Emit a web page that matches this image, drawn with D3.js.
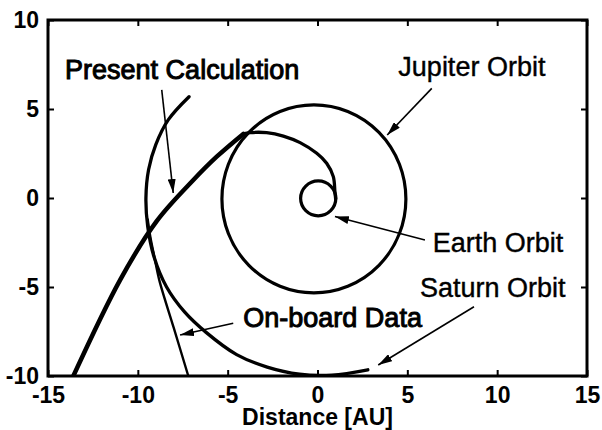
<!DOCTYPE html>
<html>
<head>
<meta charset="utf-8">
<script src="https://cdn.jsdelivr.net/npm/d3@7"></script>
<style>
body { margin: 0; background: #fff; }
text { font-family: "Liberation Sans", Arial, sans-serif; fill: #000; }
.tick_labels text { font-size: 23px; font-weight: bold; }
.axis_title { font-size: 23px; font-weight: bold; }
.notes { font-size: 27px; }
</style>
</head>
<body>
<svg id="svg-orbits" width="602" height="430"></svg>
<script>
var xTicks = [-15, -10, -5, 0, 5, 10, 15];
var yTicks = [-10, -5, 0, 5, 10];

// orbits drawn as ellipses (centre and half axes in AU)
var orbits = [{name:"Earth", cx:0.04, cy:-0.02, rx:0.98, ry:0.98},
              {name:"Jupiter", cx:-0.2, cy:-0.05, rx:5.12, ry:5.28}];

var saturnArc = [[-7.15,5.69],[-8.3,4.4],[-9.0,3.0],[-9.4,1.6],[-9.55,0.0],[-9.45,-1.6],
                 [-9.1,-3.3],[-8.4,-5.0],[-7.4,-6.4],[-6.2,-7.55],[-4.5,-8.8],[-2.8,-9.5],
                 [-1.0,-9.9],[0.8,-9.95],[2.8,-9.65]];
var transfer = [[1.01,-0.05],[0.97,0.35],[0.88,1.2],[0.51,1.95],[-0.04,2.51],[-0.97,3.11],
                [-1.9,3.48],[-2.83,3.67],[-3.76,3.67],[-4.13,3.6]];
var present = [[-4.13,3.6],[-5.61,2.32],[-6.91,1.01],[-8.95,-1.3],[-10.99,-4.61],[-13.59,-10]];
var onboard = [[-9.45,-1.2],[-9.3,-2.2],[-9.08,-3.3],[-8.81,-4.6],[-8.0,-7.3],[-7.19,-10]];

var notes = [{text:"Present Calculation", x:-14.05, y:6.69, heavy:1.0},
             {text:"Jupiter Orbit", x:4.5, y:6.85, heavy:0.4},
             {text:"Earth Orbit", x:6.41, y:-3.02, heavy:0.4},
             {text:"Saturn Orbit", x:5.7, y:-5.58, heavy:0.4},
             {text:"On-board Data", x:-4.13, y:-7.23, heavy:1.0}];
var arrows = [{x1:-8.67, y1:6.07, x2:-8.03, y2:0.28},
              {x1:6.36, y1:6.16, x2:3.88, y2:3.54},
              {x1:5.98, y1:-2.36, x2:0.97, y2:-1.04},
              {x1:8.71, y1:-6.11, x2:3.38, y2:-9.38},
              {x1:-4.69, y1:-7.04, x2:-7.65, y2:-7.7}];

var svg = d3.select("#svg-orbits");
var pLeft = 48, pRight = 587, pTop = 20, pBottom = 376;

var xScale = d3.scaleLinear().domain([-15, 15]).range([pLeft, pRight]);
var yScale = d3.scaleLinear().domain([-10, 10]).range([pBottom, pTop]);
var plain = function(d) { return String(d); };

var defs = svg.append("defs");
defs.append("clipPath")
    .attr("id", "plot_clip")
    .append("rect")
    .attr("x", pLeft).attr("y", pTop)
    .attr("width", pRight-pLeft).attr("height", pBottom-pTop);

defs.append("marker")
    .attr("id", "head")
    .attr("viewBox", "0 -4 14 8")
    .attr("refX", 14)
    .attr("refY", 0)
    .attr("markerUnits", "userSpaceOnUse")
    .attr("markerWidth", 14)
    .attr("markerHeight", 8)
    .attr("orient", "auto")
    .append("path")
    .attr("d", "M0,-4L14,0L0,4Z")
    .style("fill", "#000");

// axes: ticks point inward on all four sides
var gx = svg.append("g")
    .attr("class", "tick_labels")
    .attr("transform", "translate(0," + pBottom + ")")
    .call(d3.axisBottom(xScale).tickValues(xTicks).tickFormat(plain).tickSizeInner(-6).tickSizeOuter(0).tickPadding(11));
var gy = svg.append("g")
    .attr("class", "tick_labels")
    .attr("transform", "translate(" + pLeft + ",0)")
    .call(d3.axisLeft(yScale).tickValues(yTicks).tickFormat(plain).tickSizeInner(-6).tickSizeOuter(0).tickPadding(9));
var gt = svg.append("g")
    .attr("transform", "translate(0," + pTop + ")")
    .call(d3.axisTop(xScale).tickValues(xTicks).tickSizeInner(-6).tickSizeOuter(0).tickFormat(""));
var gr = svg.append("g")
    .attr("transform", "translate(" + pRight + ",0)")
    .call(d3.axisRight(yScale).tickValues(yTicks).tickSizeInner(-6).tickSizeOuter(0).tickFormat(""));
[gx, gy, gt, gr].forEach(function(g) {
  g.attr("font-family", null).attr("font-size", null);
  g.select(".domain").remove();
  g.selectAll(".tick line").style("stroke", "#000").style("stroke-width", 2);
});

svg.append("rect")
    .attr("x", pLeft).attr("y", pTop)
    .attr("width", pRight-pLeft).attr("height", pBottom-pTop)
    .style("fill", "none")
    .style("stroke", "#000")
    .style("stroke-width", 3);

var plot = svg.append("g").attr("clip-path", "url(#plot_clip)");

plot.selectAll("orbits")
    .data(orbits)
    .enter()
    .append("ellipse")
    .attr("cx", function(d) { return xScale(d.cx); })
    .attr("cy", function(d) { return yScale(d.cy); })
    .attr("rx", function(d) { return xScale(d.rx) - xScale(0); })
    .attr("ry", function(d) { return yScale(0) - yScale(d.ry); })
    .style("fill", "none")
    .style("stroke", "#000")
    .style("stroke-width", 3.2);

var line = d3.line()
    .x(function(d) { return xScale(d[0]); })
    .y(function(d) { return yScale(d[1]); })
    .curve(d3.curveCatmullRom.alpha(0.5));

var curves = [{pts:saturnArc, w:3.3}, {pts:transfer, w:3.3}, {pts:present, w:4.5}, {pts:onboard, w:2.4}];
plot.selectAll("curves")
    .data(curves)
    .enter()
    .append("path")
    .attr("d", function(d) { return line(d.pts); })
    .style("fill", "none")
    .style("stroke", "#000")
    .style("stroke-width", function(d) { return d.w; })
    .style("stroke-linecap", "round")
    .style("stroke-linejoin", "round");

svg.selectAll("arrows")
    .data(arrows)
    .enter()
    .append("line")
    .attr("x1", function(d) { return xScale(d.x1); })
    .attr("y1", function(d) { return yScale(d.y1); })
    .attr("x2", function(d) { return xScale(d.x2); })
    .attr("y2", function(d) { return yScale(d.y2); })
    .style("stroke", "#000")
    .style("stroke-width", 1.6)
    .attr("marker-end", "url(#head)");

svg.selectAll("notes")
    .data(notes)
    .enter()
    .append("text")
    .attr("class", "notes")
    .attr("x", function(d) { return xScale(d.x); })
    .attr("y", function(d) { return yScale(d.y); })
    .text(function(d) { return d.text; })
    .style("stroke", "#000")
    .style("stroke-width", function(d) { return d.heavy; });

svg.append("text")
    .attr("class", "axis_title")
    .attr("x", (pLeft+pRight)/2)
    .attr("y", 425)
    .style("text-anchor", "middle")
    .text("Distance [AU]");
</script>
</body>
</html>
